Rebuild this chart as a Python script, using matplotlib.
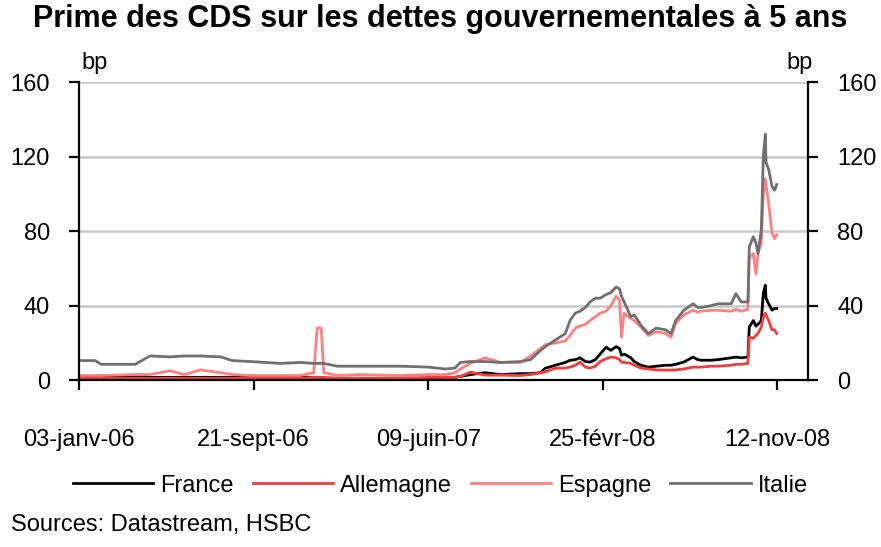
import pandas as pd
import matplotlib
matplotlib.use('Agg')
import matplotlib.pyplot as plt

plt.rcParams['font.family'] = ['Liberation Sans Narrow', 'Liberation Sans', 'DejaVu Sans']

# Données (pb)
dates = ['2006-01-03', '2006-01-27', '2006-02-05', '2006-03-28', '2006-04-19', '2006-05-19',
         '2006-06-10', '2006-07-03', '2006-08-03', '2006-08-20', '2006-09-16', '2006-10-31',
         '2006-11-30', '2006-12-20', '2006-12-25', '2006-12-31', '2007-01-04', '2007-01-24',
         '2007-02-27', '2007-04-28', '2007-06-10', '2007-07-04', '2007-07-19', '2007-07-27',
         '2007-08-11', '2007-09-02', '2007-09-25', '2007-10-25', '2007-11-09', '2007-11-24',
         '2007-12-01', '2007-12-16', '2007-12-31', '2008-01-07', '2008-01-15', '2008-01-22',
         '2008-01-30', '2008-02-06', '2008-02-14', '2008-02-21', '2008-03-01', '2008-03-08',
         '2008-03-16', '2008-03-21', '2008-03-24', '2008-03-28', '2008-04-07', '2008-04-12',
         '2008-04-22', '2008-05-03', '2008-05-15', '2008-05-29', '2008-06-06', '2008-06-13',
         '2008-06-25', '2008-07-09', '2008-07-16', '2008-07-21', '2008-08-05', '2008-08-15',
         '2008-09-04', '2008-09-11', '2008-09-19', '2008-09-29', '2008-10-01', '2008-10-07',
         '2008-10-11', '2008-10-14', '2008-10-19', '2008-10-22', '2008-10-25', '2008-10-26',
         '2008-10-30', '2008-11-04', '2008-11-08', '2008-11-11']

italie = [10.5, 10.5, 8.5, 8.5, 13, 12.5, 13, 13, 12.5, 10.5, 10, 9,
          9.5, 9, 9, 9, 9, 7.5, 7.5, 7.5, 7, 6, 6.5, 9.5,
          10, 10, 9.5, 10, 11, 16, 18, 21.5, 25, 32, 36, 37,
          39, 42, 44, 44, 46, 47, 50, 49, 45, 42, 34, 35,
          29.5, 25, 28, 27, 25, 32, 37.5, 41, 39, 39, 40, 41,
          41, 46.5, 42, 42, 71.5, 77, 73.5, 68, 80.5, 120, 132, 117,
          113, 104, 102, 105]

espagne = [2.5, 2.5, 2.5, 3, 3, 5, 3, 5.5, 4, 3, 2.5, 2.5,
           2.5, 4, 28, 28, 4, 2.5, 3, 2.5, 3, 3, 4, 6,
           9, 12, 9.5, 9.5, 13, 17, 19, 20, 21, 24, 28, 29,
           30, 32, 34, 36, 37, 40, 45, 43, 23, 36, 33, 32,
           28.5, 24, 26, 25, 23, 30.5, 35, 37.5, 36.5, 37, 37.5, 37.5,
           37, 38, 37, 38, 66, 68, 57, 68, 73.5, 100, 108, 105,
           95, 79, 76, 78]

france = [1.5, 1.5, 1.5, 1.5, 1.5, 1.5, 1.5, 1.5, 1.5, 1.5, 1.5, 1.5,
          1.5, 1.5, 1.5, 1.5, 1, 1, 1, 1, 1, 1.5, 1.5, 2,
          3, 4, 3, 3.5, 3.5, 4, 6.4, 8, 9.5, 10.7, 11, 12,
          10, 9.7, 11, 14, 17.7, 16, 18, 17, 13.4, 14, 12, 10,
          8, 7, 7.5, 8, 8, 8.5, 9.7, 12.4, 11, 10.7, 10.7, 11,
          12, 12.4, 12, 12.4, 28.5, 32, 29, 30, 32, 46.7, 51, 44,
          41, 37.6, 38.5, 38.5]

allemagne = [1, 1, 1, 1, 1, 1, 1, 1, 1, 1, 1, 1,
             1, 1.5, 1.5, 1.5, 1.5, 1, 1, 1, 1.5, 1.5, 1.5, 2,
             4.3, 2.7, 2.7, 2.5, 3, 4, 4.5, 6.4, 6.5, 7, 8, 9.7,
             7, 6.5, 7.5, 10, 11.5, 12.4, 12, 11, 9.7, 9.5, 9, 8,
             6.5, 6, 5.5, 5.4, 5.4, 5.5, 6, 7, 7, 7, 7.5, 7.5,
             8, 8.5, 8.5, 9, 23, 22.5, 24, 25, 28.5, 34, 36, 35,
             32, 27, 27, 25]

tick_dates = ['2006-01-03', '2006-09-21', '2007-06-09', '2008-02-25', '2008-11-12']
tick_labels = ['03-janv-06', '21-sept-06', '09-juin-07', '25-févr-08', '12-nov-08']

x = pd.to_datetime(dates)

fig = plt.figure(figsize=(8.81, 5.47), dpi=100)
ax = fig.add_axes([0.0897, 0.305, 0.8276, 0.545])

ax.plot(x, france, color='black', lw=2, label='France')
ax.plot(x, allemagne, color='#f03c3c', lw=2, label='Allemagne')
ax.plot(x, espagne, color='#ff8080', lw=2, label='Espagne')
ax.plot(x, italie, color='#707070', lw=2, label='Italie')

ax.set_ylim(0, 160)
ax.set_yticks([0, 40, 80, 120, 160])
ax.set_xlim(pd.Timestamp('2006-01-03'), pd.Timestamp('2008-12-28'))
ax.set_xticks(pd.to_datetime(tick_dates))
ax.set_xticklabels(tick_labels)

ax.yaxis.grid(True, color='#c8c8c8', lw=1.8)
ax.set_axisbelow(True)
for s in ['left', 'right', 'bottom']:
    ax.spines[s].set_linewidth(1.6)
ax.spines['top'].set_visible(False)

ax.tick_params(axis='y', direction='out', length=7, width=1.6, pad=14, labelsize=17,
               left=True, right=True, labelleft=True, labelright=True)
ax.tick_params(axis='x', direction='out', length=7, width=1.6, pad=28, labelsize=17)

fig.text(0.5, 0.965, 'Prime des CDS sur les dettes gouvernementales à 5 ans',
         ha='center', va='center', fontsize=22, fontweight='bold')
fig.text(0.092, 0.885, 'bp', ha='left', va='center', fontsize=17)
fig.text(0.922, 0.885, 'bp', ha='right', va='center', fontsize=17)
fig.text(0.013, 0.04, 'Sources: Datastream, HSBC', ha='left', va='center', fontsize=17)

fig.legend(loc='center', bbox_to_anchor=(0.5, 0.112), ncol=4, frameon=False, fontsize=17,
           handlelength=3.4, handletextpad=0.3, columnspacing=0.8)

plt.savefig('out.png', dpi=100)
